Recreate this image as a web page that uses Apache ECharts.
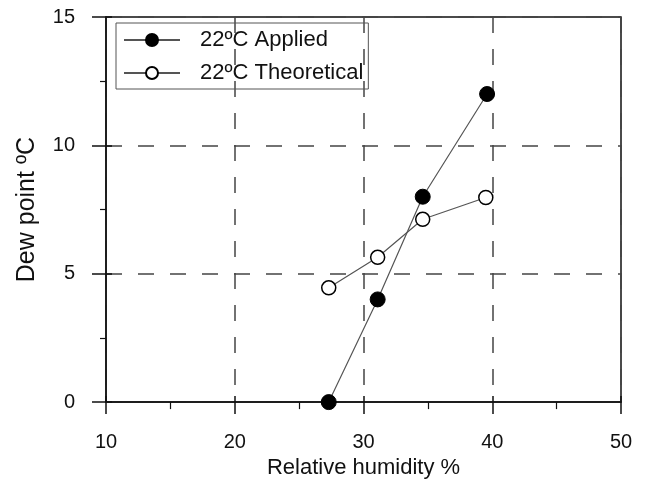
<!DOCTYPE html>
<html>
<head>
<meta charset="utf-8">
<script src="https://cdn.jsdelivr.net/npm/echarts@6/dist/echarts.min.js"></script>
<style>
  html, body { margin: 0; padding: 0; background: #fff; }
  #chart { width: 645px; height: 484px; }
</style>
</head>
<body>
<div id="chart"></div>
<script>
// humidity (%) and dew point (ºC)
const appliedRH = [27.3, 31.1, 34.6, 39.6];
const appliedDew = [0, 4, 8, 12];
const theoreticalRH = [27.3, 31.1, 34.6, 39.5];
const theoreticalDew = [4.45, 5.64, 7.12, 7.97];
const seriesNames = ["22ºC Applied", "22ºC Theoretical"];

const font = "Liberation Sans, Arial, sans-serif";
const ink = "#111";

function pairs(xs, ys) {
  return xs.map((x, i) => [x, ys[i]]);
}

const myChart = echarts.init(document.getElementById("chart"));

// second, label-less axes only draw the inner half of the major ticks
const innerTicks = {
  type: "value",
  axisLine: { show: false },
  axisLabel: { show: false },
  splitLine: { show: false },
  axisTick: { inside: true, length: 6, lineStyle: { color: ink, width: 1.5 } },
};

const option = {
  animation: false,
  backgroundColor: "#fff",
  grid: {
    left: 106,
    right: 24,
    top: 17,
    bottom: 81,
    show: true,
    borderColor: ink,
    borderWidth: 1.5,
  },
  legend: {
    left: 116,
    top: 23,
    orient: "vertical",
    itemWidth: 56,
    itemHeight: 15,
    itemGap: 11,
    padding: [6, 5, 5, 7],
    borderColor: "#555",
    borderWidth: 1,
    textStyle: { fontFamily: font, fontSize: 22, color: ink, padding: [0, 0, 0, 15] },
    data: seriesNames,
  },
  xAxis: [
    {
      type: "value",
      min: 10,
      max: 50,
      interval: 10,
      name: "Relative humidity %",
      nameLocation: "middle",
      nameGap: 40,
      nameTextStyle: { fontFamily: font, fontSize: 22, color: ink },
      axisLine: { lineStyle: { color: ink, width: 1.5 } },
      axisTick: { length: 12, lineStyle: { color: ink, width: 1.5 } },
      minorTick: { show: true, splitNumber: 2, length: 7, lineStyle: { color: ink, width: 1.2 } },
      axisLabel: { fontFamily: font, fontSize: 20, color: ink, margin: 30 },
      splitLine: { show: true, lineStyle: { color: "#444", width: 1.5, type: [16, 16] } },
    },
    Object.assign({ min: 10, max: 50, interval: 10, position: "bottom" }, innerTicks),
  ],
  yAxis: [
    {
      type: "value",
      min: 0,
      max: 15,
      interval: 5,
      name: "Dew point ºC",
      nameLocation: "middle",
      nameGap: 66,
      nameTextStyle: { fontFamily: font, fontSize: 25, color: ink },
      axisLine: { lineStyle: { color: ink, width: 1.5 } },
      axisTick: { length: 14, lineStyle: { color: ink, width: 1.5 } },
      minorTick: { show: true, splitNumber: 2, length: 6, lineStyle: { color: ink, width: 1.2 } },
      axisLabel: { fontFamily: font, fontSize: 20, color: ink, margin: 31 },
      splitLine: { show: true, lineStyle: { color: "#444", width: 1.5, type: [16, 16] } },
    },
    Object.assign({ min: 0, max: 15, interval: 5, position: "left" }, innerTicks),
  ],
  series: [
    {
      name: seriesNames[0],
      type: "line",
      data: pairs(appliedRH, appliedDew),
      symbol: "circle",
      symbolSize: 15,
      itemStyle: { color: "#000", borderColor: "#000", borderWidth: 1 },
      lineStyle: { color: "#555", width: 1.2 },
      z: 3,
    },
    {
      name: seriesNames[1],
      type: "line",
      data: pairs(theoreticalRH, theoreticalDew),
      symbol: "circle",
      symbolSize: 14,
      itemStyle: { color: "#fff", borderColor: "#000", borderWidth: 1.5 },
      lineStyle: { color: "#555", width: 1.2 },
      z: 2,
    },
  ],
};

myChart.setOption(option);
</script>
</body>
</html>
